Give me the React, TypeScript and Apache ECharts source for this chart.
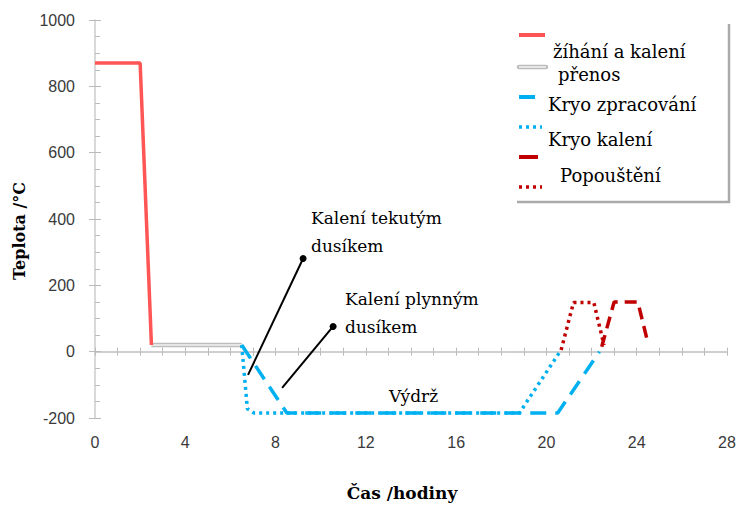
import React, { useEffect, useRef } from "react";
import * as echarts from "echarts";

// ---- data (hours, °C) ----
const xLabelStep = 4;
const xMin = 0;
const xMax = 28;
const yMin = -200;
const yMax = 1000;
const yStep = 200;

const annealing = [[0, 870], [2, 870], [2.5, 20]];
const transfer = [[2.5, 20], [6.5, 20]];
const cryoProcess = [[6.5, 20], [8.5, -185], [20.5, -185], [22.35, 0]];
const cryoQuench = [[6.5, 20], [6.75, -172], [7.05, -185], [18.8, -185], [20.65, 5]];
const temperDashed = [[22.45, 15], [23.0, 150], [24.05, 150], [24.5, 25]];
const temperDotted = [[20.65, 5], [21.2, 148], [22.1, 148], [22.55, 20]];
const liquidPointer = [[6.78, -70], [9.22, 281]];
const gasPointer = [[8.29, -109], [10.55, 76]];

const legendLabels = ["žíhání a kalení", "přenos", "Kryo zpracování", "Kryo kalení", "Popouštění"];
const notes = ["Kalení tekutým", "dusíkem", "Kalení plynným", "dusíkem", "Výdrž"];

const RED = "#ff5555";
const BLUE = "#00b0f0";
const DARKRED = "#c00000";
const GRAY = "#bdbdbd";
const SERIF = '"DejaVu Serif", "Liberation Serif", serif';
const SANS = '"Liberation Sans", Arial, sans-serif';

export default function App() {
  const ref = useRef<HTMLDivElement>(null);
  useEffect(() => {
    if (!ref.current) return;
    const chart = echarts.init(ref.current, null, { renderer: "svg" });
    const gridRect = { left: 95, right: 12, top: 20, bottom: 88 };
    const pointer = (pts: number[][]) => [
      { value: pts[0], symbol: "none" },
      { value: pts[1], symbol: "circle", symbolSize: 7 },
    ];
    const txt = (text: string, x: number, y: number, font: string, extra: any = {}) => ({
      type: "text",
      x,
      y,
      ...extra,
      style: {
        text,
        font,
        fill: "#000",
        textAlign: extra.center ? "center" : "left",
        align: extra.center ? "center" : "left",
        textVerticalAlign: "middle",
        verticalAlign: "middle",
      },
    });
    const legLine = (y: number, x2: number, color: string, dash?: number[], width = 4) => ({
      type: "line",
      shape: { x1: 519, y1: y, x2, y2: y },
      style: { stroke: color, lineWidth: width, lineDash: dash || null },
    });

    chart.setOption({
      animation: false,
      backgroundColor: "#fff",
      grid: [gridRect, gridRect],
      xAxis: [
        {
          type: "value", gridIndex: 0, min: xMin, max: xMax, interval: xLabelStep, position: "bottom",
          axisLine: { show: false, onZero: false }, axisTick: { show: false }, splitLine: { show: false },
          axisLabel: { margin: 16, fontSize: 16, color: "#3a3a3a", fontFamily: SANS, formatter: (v: number) => String(v) },
        },
        {
          type: "value", gridIndex: 0, min: xMin, max: xMax, interval: 1, position: "top",
          axisLine: { show: true, onZero: true, lineStyle: { color: "#cccccc", width: 1.5 } },
          axisTick: { show: true, length: 4, lineStyle: { color: "#bbbbbb" } },
          axisLabel: { show: false }, splitLine: { show: false },
        },
        {
          type: "value", gridIndex: 1, min: xMin, max: xMax, interval: 1, position: "bottom",
          axisLine: { show: true, onZero: true, lineStyle: { color: "#cccccc", width: 1.5 } },
          axisTick: { show: true, length: 4, lineStyle: { color: "#bbbbbb" } },
          axisLabel: { show: false }, splitLine: { show: false },
        },
      ],
      yAxis: [
        {
          type: "value", gridIndex: 0, min: yMin, max: yMax, interval: yStep,
          axisLine: { show: true, onZero: false, lineStyle: { color: "#cccccc", width: 1.5 } },
          axisTick: { show: true, length: 6, lineStyle: { color: "#bbbbbb" } },
          axisLabel: { margin: 20, fontSize: 16, color: "#3a3a3a", fontFamily: SANS, formatter: (v: number) => String(v) },
          splitLine: { show: false },
        },
        {
          type: "value", gridIndex: 1, min: yMin, max: yMax, interval: yStep,
          axisLine: { show: false, onZero: false },
          axisTick: { show: true, inside: true, length: 6, lineStyle: { color: "#bbbbbb" } },
          minorTick: { show: true, splitNumber: 4, length: 5, lineStyle: { color: "#bbbbbb" } },
          axisLabel: { show: false }, splitLine: { show: false },
        },
      ],
      series: [
        { type: "line", name: legendLabels[0], data: annealing, symbol: "none", lineStyle: { color: RED, width: 3.5 }, z: 3 },
        { type: "line", name: legendLabels[1], data: transfer, symbol: "none", lineStyle: { color: GRAY, width: 4.5 }, z: 2 },
        { type: "line", name: legendLabels[1] + " inner", data: transfer, symbol: "none", lineStyle: { color: "#f4f4f4", width: 1.5 }, z: 2 },
        { type: "line", name: legendLabels[2], data: cryoProcess, symbol: "none", lineStyle: { color: BLUE, width: 3.5, type: [16, 9] }, z: 3 },
        { type: "line", name: legendLabels[3], data: cryoQuench, symbol: "none", lineStyle: { color: BLUE, width: 3.5, type: [3, 4] }, z: 3 },
        { type: "line", name: legendLabels[4] + " a", data: temperDashed, symbol: "none", lineStyle: { color: DARKRED, width: 3.5, type: [12, 7] }, z: 3 },
        { type: "line", name: legendLabels[4] + " b", data: temperDotted, symbol: "none", lineStyle: { color: DARKRED, width: 3.5, type: [3, 4] }, z: 3 },
        { type: "line", name: "p1", data: pointer(liquidPointer), lineStyle: { color: "#000", width: 2 }, itemStyle: { color: "#000" }, z: 4 },
        { type: "line", name: "p2", data: pointer(gasPointer), lineStyle: { color: "#000", width: 2 }, itemStyle: { color: "#000" }, z: 4 },
      ],
      graphic: [
        txt("Teplota /°C", 19, 231, `bold 16px ${SERIF}`, { rotation: Math.PI / 2, center: true }),
        txt("Čas /hodiny", 402, 493, `bold 17px ${SERIF}`, { center: true }),
        // legend
        { type: "polyline", shape: { points: [[729, 24], [729, 202], [517, 202]] }, style: { stroke: "#aaaaaa", lineWidth: 2.5, fill: null } },
        legLine(35, 545, RED),
        { type: "line", shape: { x1: 519, y1: 67, x2: 546, y2: 67 }, style: { stroke: GRAY, lineWidth: 4.5, lineCap: "round" } },
        { type: "line", shape: { x1: 519, y1: 67, x2: 546, y2: 67 }, style: { stroke: "#f4f4f4", lineWidth: 1.5 } },
        legLine(97, 535, BLUE),
        legLine(127, 542, BLUE, [3, 4], 3.5),
        legLine(157, 538, DARKRED),
        legLine(187, 542, DARKRED, [3, 4], 3.5),
        txt(legendLabels[0], 553, 51, `18px ${SERIF}`),
        txt(legendLabels[1], 558, 74, `18px ${SERIF}`),
        txt(legendLabels[2], 548, 104, `18px ${SERIF}`),
        txt(legendLabels[3], 548, 139, `18px ${SERIF}`),
        txt(legendLabels[4], 560, 175, `18px ${SERIF}`),
        // annotations
        txt(notes[0], 311, 218, `17px ${SERIF}`),
        txt(notes[1], 311, 246, `17px ${SERIF}`),
        txt(notes[2], 345, 299, `17px ${SERIF}`),
        txt(notes[3], 345, 327, `17px ${SERIF}`),
        txt(notes[4], 389, 396, `17px ${SERIF}`),
      ],
    });
    return () => chart.dispose();
  }, []);
  return <div ref={ref} style={{ position: "absolute", left: 0, top: 0, width: 739, height: 506 }} />;
}
